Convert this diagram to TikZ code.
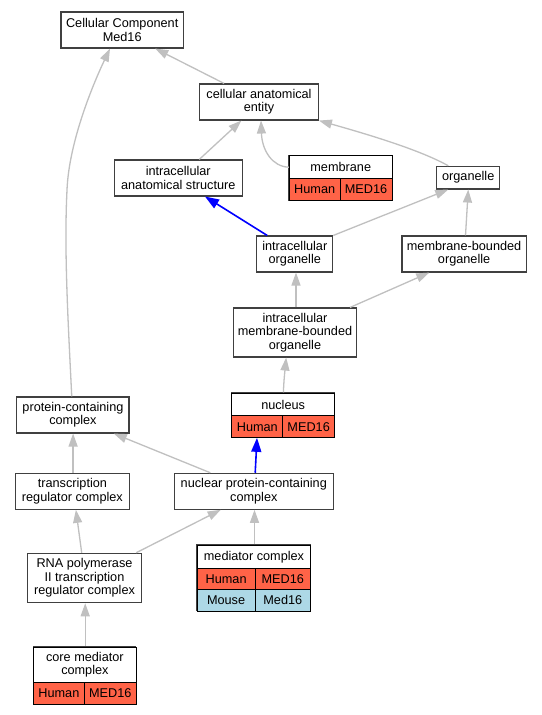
\documentclass[tikz,border=0pt]{standalone}
\usepackage{fontspec}
\setmainfont{Liberation Sans}
\usetikzlibrary{arrows.meta}
\definecolor{edgegray}{HTML}{C0C0C0}
\definecolor{tomatoc}{HTML}{FF6347}
\definecolor{lblue}{HTML}{ADD8E6}
\definecolor{bordc}{HTML}{404040}
\begin{document}
\begin{tikzpicture}[x=1pt,y=-1pt,
  every node/.style={font=\fontsize{12.7}{13.3}\selectfont, inner sep=0pt, align=center},
  box/.style={draw=bordc, line width=1.1pt, fill=white, rectangle},
  tbl/.style={draw=bordc, line width=1.1pt, rectangle},
  hdr/.style={draw=black, line width=0.8pt, fill=white, rectangle, anchor=north west},
  hcell/.style={draw=black, line width=0.8pt, fill=tomatoc, rectangle, anchor=north west},
  mcell/.style={draw=black, line width=0.8pt, fill=lblue, rectangle, anchor=north west},
  isa/.style={draw=edgegray, line width=1.3pt, -{Triangle[length=13pt,width=9pt]}},
  partof/.style={draw=blue, line width=1.6pt, -{Triangle[length=14pt,width=10pt]}}
]
\useasboundingbox (0,0) rectangle (541,715);
\fill[white] (0,0) rectangle (541,715);

% plain boxes
\node[box, minimum width=122.4pt, minimum height=36pt] (cc) at (122.2,30) {Cellular Component\\Med16};
\node[box, minimum width=118.7pt, minimum height=36pt] (cae) at (259,102) {cellular anatomical\\entity};
\node[box, minimum width=128.3pt, minimum height=36pt] (ias) at (178.25,178) {intracellular\\anatomical structure};
\node[box, minimum width=62.7pt, minimum height=22.7pt] (org) at (468.25,177.65) {organelle};
\node[box, minimum width=75.8pt, minimum height=36pt] (iorg) at (294.8,254) {intracellular\\organelle};
\node[box, minimum width=124.2pt, minimum height=36pt] (mbo) at (464.1,254) {membrane-bounded\\organelle};
\node[box, minimum width=123.8pt, minimum height=49pt] (imbo) at (295,332.5) {intracellular\\membrane-bounded\\organelle};
\node[box, minimum width=112.1pt, minimum height=36pt] (pcc) at (72.95,415) {protein-containing\\complex};
\node[box, minimum width=113.8pt, minimum height=36pt] (trc) at (72.4,491.3) {transcription\\regulator complex};
\node[box, minimum width=158.6pt, minimum height=36pt] (npcc) at (253.8,491.3) {nuclear protein-containing\\complex};
\node[box, minimum width=113.8pt, minimum height=49.4pt] (rna) at (84.5,578) {RNA polymerase\\II transcription\\regulator complex};

% membrane table
\node[tbl, minimum width=102.7pt, minimum height=44.7pt] (mem) at (340.35,177.65) {};
\node[hdr, minimum width=102.7pt, minimum height=23pt] (memt) at (289,155.3) {membrane};
\node[hcell, minimum width=50.6pt, minimum height=21.7pt] (memh) at (289,178.3) {Human};
\node[hcell, minimum width=52.1pt, minimum height=21.7pt] (memg) at (339.6,178.3) {MED16};

% nucleus table
\node[tbl, minimum width=102.7pt, minimum height=44.3pt] (nuc) at (282.75,415.15) {};
\node[hdr, minimum width=102.7pt, minimum height=22.3pt] (nuct) at (231.4,393) {nucleus};
\node[hcell, minimum width=51pt, minimum height=22pt] (nuch) at (231.4,415.3) {Human};
\node[hcell, minimum width=51.7pt, minimum height=22pt] (nucg) at (282.4,415.3) {MED16};

% mediator complex table
\node[tbl, minimum width=113.4pt, minimum height=65.7pt] (med) at (253.6,577.85) {};
\node[hdr, minimum width=113.4pt, minimum height=22.7pt] (medt) at (196.9,545) {mediator complex};
\node[hcell, minimum width=57.6pt, minimum height=21.6pt] (medh) at (196.9,567.7) {Human};
\node[hcell, minimum width=55.8pt, minimum height=21.6pt] (medg) at (254.5,567.7) {MED16};
\node[mcell, minimum width=57.6pt, minimum height=21.4pt] (medm) at (196.9,589.3) {Mouse};
\node[mcell, minimum width=55.8pt, minimum height=21.4pt] (medmg) at (254.5,589.3) {Med16};

% core mediator complex table
\node[tbl, minimum width=102.8pt, minimum height=57.3pt] (core) at (84.5,675.35) {};
\node[hdr, minimum width=102.8pt, minimum height=35.6pt] (coret) at (33.1,646.7) {core mediator\\complex};
\node[hcell, minimum width=50.7pt, minimum height=21.7pt] (coreh) at (33.1,682.3) {Human};
\node[hcell, minimum width=52.1pt, minimum height=21.7pt] (coreg) at (83.8,682.3) {MED16};

% edges
\draw[isa] ([xshift=-34.9pt]cae.north) -- ([xshift=33pt]cc.south);
\draw[isa] ([xshift=-1.2pt]pcc.north) .. controls (68,320) and (64,250) .. (67,190)
  .. controls (69,140) and (95,80) .. ([xshift=-12.2pt]cc.south);
\draw[isa] ([xshift=21pt]ias.north) -- ([xshift=-17.6pt]cae.south);
\draw[isa] (memt.west) .. controls (272,166.8) and (262,150) .. ([xshift=2pt]cae.south);
\draw[isa] ([xshift=-20pt]org.north) .. controls (420,150) and (370,135) .. (cae.south east);
\draw[partof] ([xshift=-27.6pt]iorg.north) -- ([xshift=26.75pt]ias.south);
\draw[isa] (iorg.north east) -- ([xshift=-20pt]org.south);
\draw[isa] ([xshift=1.4pt]mbo.north) -- (org.south);
\draw[isa] ([xshift=1pt]imbo.north) -- ([xshift=1.2pt]iorg.south);
\draw[isa] ([xshift=55pt]imbo.north) -- ([xshift=-34.8pt]mbo.south);
\draw[isa] ([xshift=0.65pt]nuc.north) .. controls (283.8,380) and (285,370) .. ([xshift=-8.8pt]imbo.south);
\draw[partof] ([xshift=1.4pt]npcc.north) -- ([xshift=-25.75pt]nuc.south);
\draw[isa] ([xshift=-43.5pt]npcc.north) -- ([xshift=40.85pt]pcc.south);
\draw[isa] ([xshift=0.7pt]trc.north) -- ([xshift=0.15pt]pcc.south);
\draw[isa] ([xshift=-2.8pt]rna.north) -- ([xshift=3.5pt]trc.south);
\draw[isa] ([xshift=51.7pt]rna.north) -- ([xshift=-33.1pt]npcc.south);
\draw[isa] ([xshift=0.9pt]med.north) -- ([xshift=0.7pt]npcc.south);
\draw[isa] ([xshift=0.7pt]core.north) -- ([xshift=0.7pt]rna.south);
\end{tikzpicture}
\end{document}
